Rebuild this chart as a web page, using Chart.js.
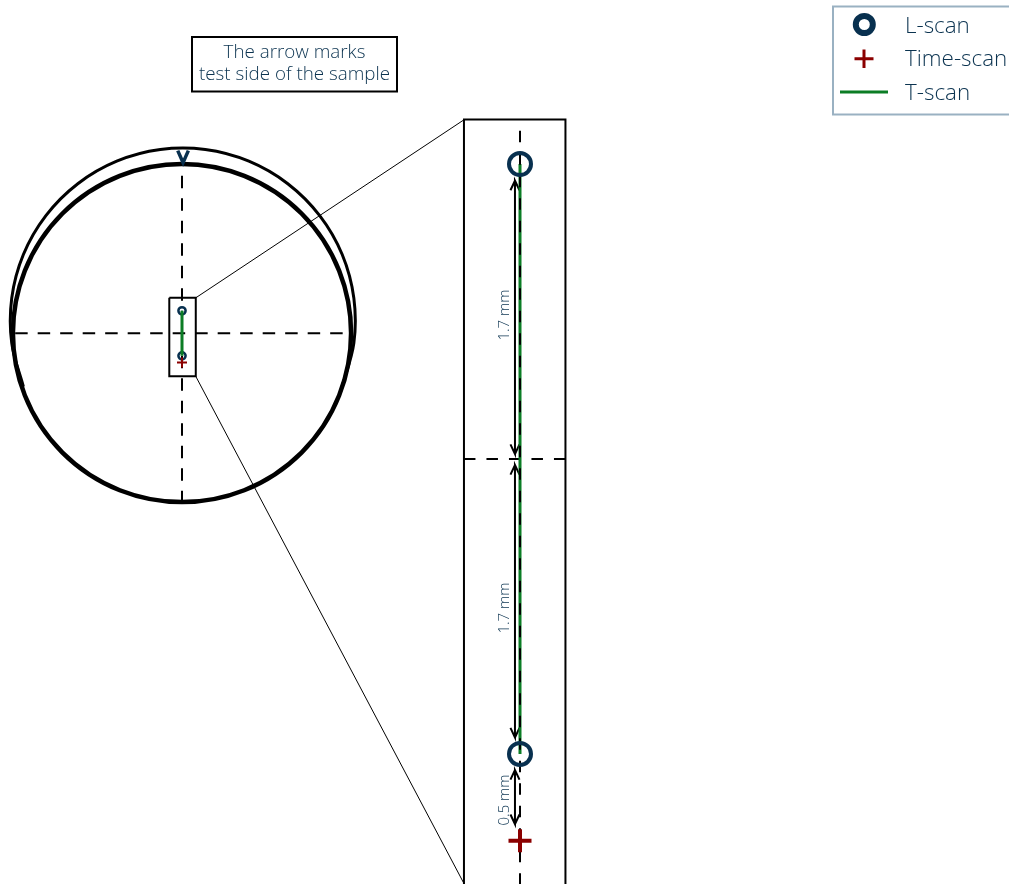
<!DOCTYPE html>
<html>
<head>
<meta charset="utf-8">
<title>Sample scan layout</title>
<script src="https://cdn.jsdelivr.net/npm/chart.js@4"></script>
<style>
    html, body { margin: 0; padding: 0; background: #fff; overflow: hidden; }
    canvas { display: block; }
</style>
</head>
<body>
<canvas id="scanMap" width="1009" height="884"></canvas>
<script>
// Everything is in mm from the centre of the sample
const scanY = [1.7, -1.7];
const timeScanY = [-2.2];

// Overview
const sampleCentre = [{ x: 0.0, y: 0.02 }];
const sampleRadius = 12.77;
const outerArcX = [-11.98, -12.86, -12.86, -11.98, -10.28, -7.87, -4.93, -1.64, 1.76, 5.05, 7.99, 10.40, 12.10, 12.98, 12.98, 12.10];
const outerArcY = [-4.03, -0.74, 2.66, 5.95, 8.89, 11.30, 13.00, 13.88, 13.88, 13.00, 11.30, 8.89, 5.95, 2.66, -0.74, -4.03];
const markerX = [-0.32, 0.08, 0.48];
const markerY = [13.80, 12.89, 13.80];
const crossV = [11.9, -12.7];
const crossH = [-12.6, 12.85];
const boxX = [-0.96, 1.04, 1.04, -0.96, -0.96];
const boxY = [2.68, 2.68, -3.25, -3.25, 2.68];
const connectTopX = [1.04, 21.32];
const connectTopY = [2.68, 16.14];
const connectBottomX = [1.04, 21.32];
const connectBottomY = [-3.25, -41.6];

// Zoomed strip
const stripX = [-0.323, -0.323, 0.262, 0.262];
const stripY = [-2.6, 1.957, 1.957, -2.6];
const stripCentreY = [1.892, -2.45];
const stripCentreX = [-0.323, 0.262];
const arrowX = -0.029;
const arrowEnds = [[1.604, 0.029], [-0.035, -1.605], [-1.793, -2.104]];

const distanceLabels = [
    { text: '1.7 mm', x: -0.086, y: 0.83 },
    { text: '1.7 mm', x: -0.086, y: -0.859 },
    { text: '0.5 mm', x: -0.086, y: -1.965 }
];
const noteLines = ['The arrow marks', 'test side of the sample'];
const legendLabels = ['L-scan', 'Time-scan', 'T-scan'];

const navy = '#08304f';
const darkRed = '#8b0000';
const green = '#0b7d25';
const textColor = '#0b3350';

// px per mm and where the origin sits on the canvas
const W = 1009, H = 884;
const sample = { k: 13.24, cx: 182, cy: 333.3 };
const strip = { k: 173.5, cx: 520, cy: 459 };

function xScale(v) {
    return { type: 'linear', display: false, min: -v.cx / v.k, max: (W - v.cx) / v.k };
}
function yScale(v) {
    return { type: 'linear', display: false, min: (v.cy - H) / v.k, max: v.cy / v.k };
}
function xy(xs, ys) {
    return xs.map((x, i) => ({ x: x, y: ys[i] }));
}

function sampleLine(data, color, width, extra) {
    return Object.assign({
        data: data, xAxisID: 'xS', yAxisID: 'yS', showLine: true,
        borderColor: color, borderWidth: width, pointRadius: 0
    }, extra);
}
function stripLine(data, color, width, extra) {
    return Object.assign({
        data: data, xAxisID: 'xZ', yAxisID: 'yZ', showLine: true,
        borderColor: color, borderWidth: width, pointRadius: 0
    }, extra);
}
function markers(data, scale, style, color, r, width) {
    return {
        data: data, xAxisID: 'x' + scale, yAxisID: 'y' + scale, showLine: false,
        pointStyle: style, pointRadius: r, pointBorderWidth: width,
        pointBorderColor: color, pointBackgroundColor: 'rgba(0,0,0,0)'
    };
}

// open head on both ends of each distance arrow
function arrowPath(ends) {
    const hw = 0.026, hl = 0.055;
    const pts = [];
    ends.forEach(function (e) {
        const top = e[0], bottom = e[1];
        pts.push({ x: arrowX - hw, y: top - hl }, { x: arrowX, y: top }, { x: arrowX + hw, y: top - hl }, { x: arrowX, y: top });
        pts.push({ x: arrowX, y: bottom });
        pts.push({ x: arrowX - hw, y: bottom + hl }, { x: arrowX, y: bottom }, { x: arrowX + hw, y: bottom + hl }, { x: arrowX, y: bottom });
        pts.push({ x: NaN, y: NaN });
    });
    return pts;
}

const atX0 = ys => ys.map(y => ({ x: 0, y: y }));

const textPlugin = {
    id: 'scanText',
    afterDraw(chart) {
        const c = chart.ctx;
        const sx = chart.scales.xZ, sy = chart.scales.yZ;
        c.save();
        c.textBaseline = 'middle';

        // note box
        c.fillStyle = '#fff';
        c.strokeStyle = '#000';
        c.lineWidth = 2;
        c.fillRect(192, 37, 205, 54.5);
        c.strokeRect(192, 37, 205, 54.5);
        c.fillStyle = textColor;
        c.textAlign = 'center';
        c.font = '300 18.8px "Open Sans"';
        noteLines.forEach((t, i) => c.fillText(t, 294.5, 53 + i * 22));

        // distance labels
        c.font = '300 15px "Open Sans"';
        distanceLabels.forEach(function (l) {
            c.save();
            c.translate(sx.getPixelForValue(l.x), sy.getPixelForValue(l.y));
            c.rotate(-Math.PI / 2);
            c.fillText(l.text, 0, 0);
            c.restore();
        });

        // legend
        c.strokeStyle = '#9ab1c2';
        c.strokeRect(833, 6.5, 190, 108);
        c.textAlign = 'left';
        c.font = '300 22.4px "Open Sans"';
        legendLabels.forEach((t, i) => c.fillText(t, 905, 26.5 + i * 33.5));
        c.strokeStyle = navy;
        c.lineWidth = 6;
        c.beginPath();
        c.arc(864.3, 24.5, 8.5, 0, Math.PI * 2);
        c.stroke();
        c.strokeStyle = darkRed;
        c.lineWidth = 3;
        c.beginPath();
        c.moveTo(854.5, 58.7); c.lineTo(873.5, 58.7);
        c.moveTo(864, 49.5); c.lineTo(864, 68);
        c.stroke();
        c.strokeStyle = green;
        c.beginPath();
        c.moveTo(840, 92); c.lineTo(888, 92);
        c.stroke();
        c.restore();
    }
};

new Chart(document.getElementById('scanMap'), {
    type: 'scatter',
    data: {
        datasets: [
            // strip, top of the stack first
            markers(atX0(timeScanY), 'Z', 'cross', darkRed, 11.5, 4),
            markers(atX0(scanY), 'Z', 'circle', navy, 11, 4),
            stripLine(atX0(stripCentreY), '#000', 2, { borderDash: [11.5, 11] }),
            stripLine(atX0(scanY), green, 3),
            stripLine(arrowPath(arrowEnds), '#000', 2, { spanGaps: false }),
            stripLine(xy(stripCentreX, [0, 0]), '#000', 2, { borderDash: [11.5, 11] }),
            stripLine(xy(stripX, stripY), '#000', 2),
            // overview
            markers(atX0(timeScanY), 'S', 'cross', darkRed, 5, 2),
            sampleLine(atX0(scanY), green, 3),
            markers(atX0(scanY), 'S', 'circle', navy, 3.6, 2.5),
            sampleLine(xy(boxX, boxY), '#000', 2),
            sampleLine(xy(connectTopX, connectTopY), '#000', 1),
            sampleLine(xy(connectBottomX, connectBottomY), '#000', 1),
            sampleLine(xy(outerArcX, outerArcY), '#000', 3, { tension: 0.34 }),
            sampleLine(xy(markerX, markerY), navy, 3.5),
            {
                data: sampleCentre, xAxisID: 'xS', yAxisID: 'yS', showLine: false,
                pointStyle: 'circle', pointBorderWidth: 4.5, pointBorderColor: '#000',
                pointBackgroundColor: 'rgba(0,0,0,0)',
                pointRadius: ctx => ctx.chart.scales.xS.getPixelForValue(sampleRadius) - ctx.chart.scales.xS.getPixelForValue(0)
            },
            sampleLine(atX0(crossV), '#000', 2, { borderDash: [12.5, 10] }),
            sampleLine(xy(crossH, [0, 0]), '#000', 2, { borderDash: [12.5, 10] })
        ]
    },
    options: {
        responsive: false,
        animation: false,
        events: [],
        layout: { padding: 0, autoPadding: false },
        plugins: { legend: { display: false }, tooltip: { enabled: false } },
        scales: {
            xS: xScale(sample),
            yS: yScale(sample),
            xZ: xScale(strip),
            yZ: yScale(strip)
        }
    },
    plugins: [textPlugin]
});
</script>
</body>
</html>
